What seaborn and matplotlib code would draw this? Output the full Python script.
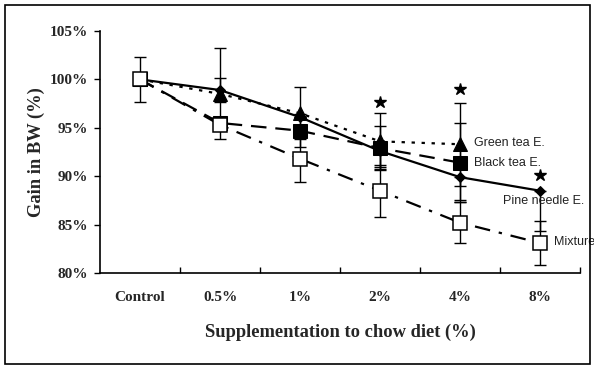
import numpy as np
import pandas as pd
import matplotlib
matplotlib.use("Agg")
import matplotlib.pyplot as plt
import seaborn as sns
from matplotlib.patches import Rectangle

# ---- data ----
categories = ["Control", "0.5%", "1%", "2%", "4%", "8%"]

pine = [100, 98.9, 96.1, 92.6, 89.9, 88.5]
pine_up = [0, 1.2, 0, 0, 0, 0]
pine_dn = [0, 1.2, 0, 1.7, 2.4, 4.2]

green = [100, 98.5, 96.5, 93.6, 93.3]
green_err = [0, 4.7, 2.7, 2.9, 4.3]

black = [100, 95.5, 94.7, 92.9, 91.4]
black_err = [0, 0, 1.7, 2.3, 4.1]

mixture = [100, 95.3, 91.8, 88.5, 85.2, 83.1]
mixture_err = [2.3, 0, 2.4, 2.7, 2.1, 2.3]

star_cats = ["2%", "4%", "8%"]
star_y = [97.7, 99.0, 90.1]

yticks = [80, 85, 90, 95, 100, 105]
ytick_labels = ["80%", "85%", "90%", "95%", "100%", "105%"]

series_names = ["Pine needle E.", "Green tea E.", "Black tea E.", "Mixture"]

# ---- figure ----
sns.set_theme(style="white")
plt.rcParams["font.family"] = ["Liberation Serif", "DejaVu Serif"]

fig = plt.figure(figsize=(5.94, 3.69), dpi=100)
ax = fig.add_axes([100/594, 1-273/369, 480/594, 242/369])

def frame(vals):
    return pd.DataFrame({"cat": categories[:len(vals)], "val": vals, "pos": np.arange(len(vals))})

df_p = frame(pine)
df_g = frame(green)
df_b = frame(black)
df_m = frame(mixture)

lw = 1.6
# Pine needle: solid, small diamonds
sns.lineplot(data=df_p, x="pos", y="val", ax=ax, color="black", lw=lw,
             marker="D", markersize=5, markeredgecolor="black", zorder=3)
# Green tea: dotted, triangles
sns.lineplot(data=df_g, x="pos", y="val", ax=ax, color="black", lw=lw,
             linestyle=(0, (1.5, 3)), marker="^", markersize=10, markeredgecolor="black", zorder=4)
# Black tea: long dashes, filled squares
sns.lineplot(data=df_b, x="pos", y="val", ax=ax, color="black", lw=lw,
             linestyle=(0, (7, 4)), marker="s", markersize=9.5, markeredgecolor="black", zorder=4)
# Mixture: dash-dot, open squares
sns.lineplot(data=df_m, x="pos", y="val", ax=ax, color="black", lw=lw,
             linestyle=(0, (7, 4, 1.5, 4)), marker="s", markersize=10,
             markerfacecolor="white", markeredgecolor="black", markeredgewidth=1.1, zorder=5)

# error bars
ekw = dict(fmt="none", ecolor="black", elinewidth=1.0, capsize=4, capthick=1.0, zorder=2)
ax.errorbar(df_p["pos"], pine, yerr=[pine_dn, pine_up], **ekw)
ax.errorbar(df_g["pos"], green, yerr=green_err, **ekw)
ax.errorbar(df_b["pos"], black, yerr=black_err, **ekw)
ax.errorbar(df_m["pos"], mixture, yerr=mixture_err, **ekw)

# significance stars
star_pos = [categories.index(c) for c in star_cats]
ax.plot(star_pos, star_y, linestyle="none", marker="*", markersize=9, color="black", zorder=6)

# series labels
lab_kw = dict(fontsize=9, family=["Liberation Sans", "DejaVu Sans"], color="#222222", va="center", ha="left")
ax.text(4.18, green[-1] + 0.1, series_names[1], **lab_kw)
ax.text(4.18, black[-1], series_names[2], **lab_kw)
ax.text(4.54, 87.4, series_names[0], **lab_kw)
ax.text(5.17, mixture[-1] + 0.1, series_names[3], clip_on=False, **lab_kw)

# axes styling
ax.set_xlim(-0.5, 5.5)
ax.set_ylim(80, 105)
ax.set_yticks(yticks)
ax.set_yticklabels(ytick_labels, fontsize=11, fontweight="bold")
ax.set_xticks(range(len(categories)))
ax.set_xticklabels(categories, fontsize=11, fontweight="bold")
ax.set_xticks(np.arange(0.5, 5.6, 1), minor=True)
ax.tick_params(axis="x", which="major", length=0, pad=13)
ax.tick_params(axis="x", which="minor", direction="in", length=4, width=1, color="black", bottom=True)
ax.tick_params(axis="y", which="major", direction="out", length=4, width=1, color="black", left=True, pad=5)

for s in ["top", "right"]:
    ax.spines[s].set_visible(False)
for s in ["left", "bottom"]:
    ax.spines[s].set_color("black")
    ax.spines[s].set_linewidth(1.2)
ax.set_facecolor("white")
ax.grid(False)

ax.set_xlabel("Supplementation to chow diet (%)", fontsize=13.3, fontweight="bold")
ax.set_ylabel("Gain in BW (%)", fontsize=13.3, fontweight="bold")
ax.xaxis.set_label_coords(0.5, -0.21)
ax.yaxis.set_label_coords(-0.115, 0.5)

# figure border
fig.patches.append(Rectangle((5/594, 5/369), 585/594, 359/369, transform=fig.transFigure,
                             fill=False, edgecolor="black", linewidth=1.2))

fig.savefig("out.png", dpi=100)
